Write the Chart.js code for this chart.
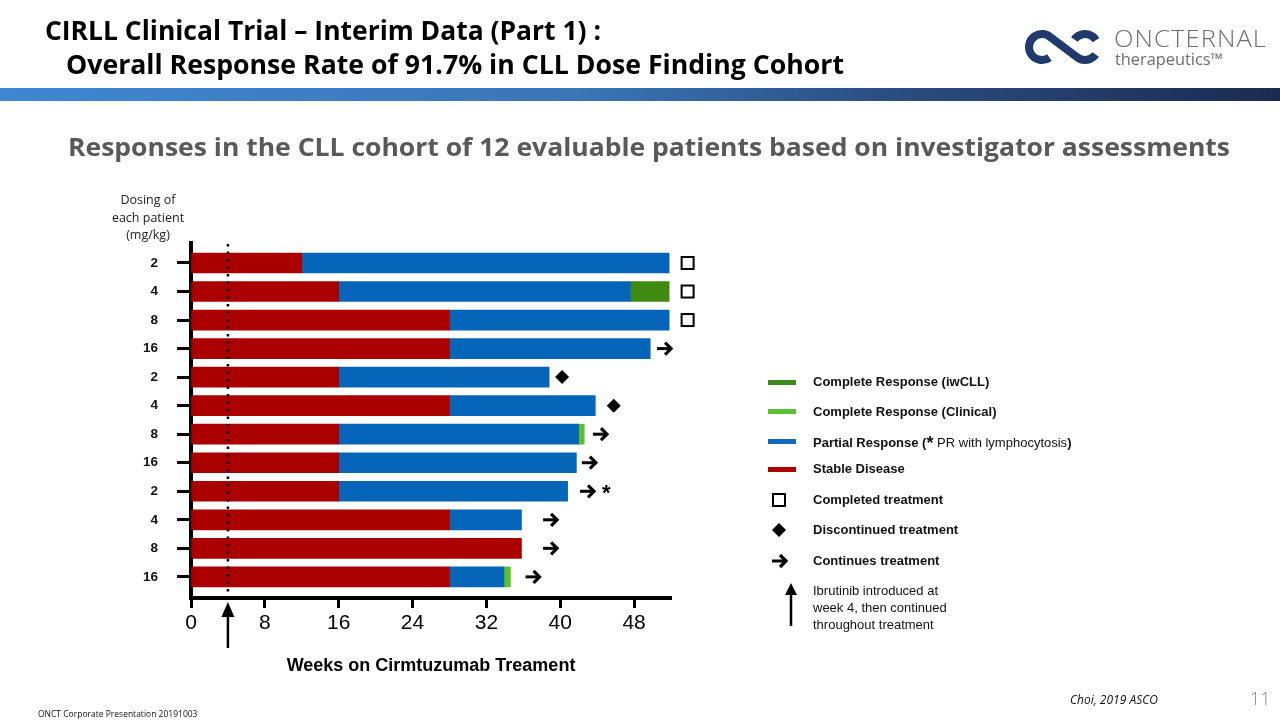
<!DOCTYPE html>
<html>
<head>
<meta charset="utf-8">
<script src="https://cdn.jsdelivr.net/npm/chart.js@4.4.0/dist/chart.umd.min.js"></script>
<style>
  html, body { margin:0; padding:0; background:#fff; }
  body { width:1280px; height:720px; position:relative; overflow:hidden; font-family:"Liberation Sans", Arial, sans-serif; }
  .abs { position:absolute; white-space:nowrap; }
  .fit { display:inline-block; transform-origin:left top; }
  #t1, #t2 { font-family:"Open Sans", sans-serif; font-weight:700; font-size:26px; line-height:30px; color:#000; }
  #sub { font-family:"Open Sans", sans-serif; font-weight:700; font-size:25px; line-height:30px; color:#595959; }
  #band { position:absolute; left:0; top:88px; width:1280px; height:13px; background:linear-gradient(to right, #3f87d2 0%, #3a76b8 45%, #2b4d80 70%, #1c2a4f 100%); }
  #chartWrap { position:absolute; left:0; top:0; width:1280px; height:720px; }
  .lg { position:absolute; font-size:13px; font-weight:700; color:#111; line-height:16px; }
  .sw { position:absolute; left:768px; width:28px; height:5px; }
  #dosing { position:absolute; left:98px; top:191px; width:100px; text-align:center; font-family:"Open Sans", sans-serif; font-size:12.5px; line-height:17.5px; color:#222; }
  #logoText1 { font-family:"Open Sans", sans-serif; font-weight:300; font-size:23px; color:#6b6d70; letter-spacing:1px; }
  #logoText2 { font-family:"Open Sans", sans-serif; font-weight:400; font-size:16px; color:#6b6d70; }
</style>
</head>
<body>
<div id="chartWrap"><canvas id="c" width="1280" height="720"></canvas></div>

<div class="abs" style="left:45px; top:15px;"><span id="t1" class="fit">CIRLL Clinical Trial – Interim Data (Part 1) :</span></div>
<div class="abs" style="left:66px; top:49px;"><span id="t2" class="fit">Overall Response Rate of 91.7% in CLL Dose Finding Cohort</span></div>
<div id="band"></div>

<canvas id="logo" width="90" height="50" style="position:absolute; left:1020px; top:22px;"></canvas>
<div class="abs" style="left:1114px; top:22px;"><span id="logoText1" class="fit">ONCTERNAL</span></div>
<div class="abs" style="left:1115px; top:48px;"><span id="logoText2" class="fit">therapeutics™</span></div>

<div class="abs" style="left:68px; top:131px;"><span id="sub" class="fit">Responses in the CLL cohort of 12 evaluable patients based on investigator assessments</span></div>

<div id="dosing">Dosing of<br>each patient<br>(mg/kg)</div>

<!-- Legend -->
<div class="sw" style="top:380px; background:#3d8a1c;"></div>
<div class="lg" style="left:813px; top:374px;">Complete Response (iwCLL)</div>
<div class="sw" style="top:409px; background:#5cc132;"></div>
<div class="lg" style="left:813px; top:404px;">Complete Response (Clinical)</div>
<div class="sw" style="top:439px; background:#1168bf;"></div>
<div class="lg" style="left:813px; top:433px;">Partial Response (<span style="font-size:18px; position:relative; top:2px;">*</span> <span style="font-weight:400;">PR with lymphocytosis</span>)</div>
<div class="sw" style="top:467px; background:#b00000;"></div>
<div class="lg" style="left:813px; top:461px;">Stable Disease</div>

<svg class="abs" style="left:770px; top:491px;" width="18" height="18"><rect x="3" y="3" width="12" height="12" fill="#fff" stroke="#000" stroke-width="2"/></svg>
<div class="lg" style="left:813px; top:492px;">Completed treatment</div>
<svg class="abs" style="left:770px; top:521px;" width="18" height="18"><polygon points="9,2 16,9 9,16 2,9" fill="#000"/></svg>
<div class="lg" style="left:813px; top:522px;">Discontinued treatment</div>
<svg class="abs" style="left:770px; top:552px;" width="20" height="18"><line x1="2" y1="9" x2="15" y2="9" stroke="#000" stroke-width="3"/><polyline points="10,3 16,9 10,15" fill="none" stroke="#000" stroke-width="3.2"/></svg>
<div class="lg" style="left:813px; top:553px;">Continues treatment</div>
<svg class="abs" style="left:782px; top:582px;" width="18" height="46"><line x1="9" y1="10" x2="9" y2="44" stroke="#000" stroke-width="2.5"/><polygon points="3,13 9,1 15,13" fill="#000"/></svg>
<div class="lg" style="left:813px; top:582px; font-weight:400; line-height:17px;">Ibrutinib introduced at<br>week 4, then continued<br>throughout treatment</div>

<!-- Footer -->
<div class="abs" style="left:38px; top:708px; font-family:'Open Sans',sans-serif; font-size:8.5px; color:#111;">ONCT Corporate Presentation 20191003</div>
<div class="abs" style="left:1070px; top:691px; font-family:'Open Sans',sans-serif; font-style:italic; font-size:12px; color:#111;">Choi, 2019 ASCO</div>
<div class="abs" style="left:1250px; top:686px; font-family:'Open Sans',sans-serif; font-weight:300; font-size:18px; color:#8a8a8a;">11</div>

<script>
// ---------------- DATA ----------------
const doses = ['2','4','8','16','2','4','8','16','2','4','8','16'];
// segment lengths in weeks, stacked left to right
const stableDisease    = [12, 16, 28, 28, 16, 28, 16, 16, 16, 28, 35.8, 28];
const partialResponse  = [39.8, 31.6, 23.8, 21.75, 22.8, 15.8, 26.0, 25.75, 24.8, 7.8, null, 5.9];
const completeIwcll    = [null, 4.2, null, null, null, null, null, null, null, null, null, null];
const completeClinical = [null, null, null, null, null, null, 0.6, null, null, null, null, 0.7];
// end-of-row status markers and their position on the weeks axis
const endStatus  = ['completed','completed','completed','continues','discontinued','discontinued','continues','continues','continues','continues','continues','continues'];
const markerWeek = [53.8, 53.8, 53.8, 51.25, 40.2, 45.8, 44.3, 43.1, 42.9, 38.9, 38.9, 37.0];
const lymphocytosisRow = 8;
const lymphocytosisWeek = 45.0;
const ibrutinibWeek = 4;
const weekTicks = [0, 8, 16, 24, 32, 40, 48];
const weekMax = 52;

// ---------------- Fit text widths ----------------
function fitW(id, w) {
  const el = document.getElementById(id);
  el.style.transform = 'none';
  const r = el.getBoundingClientRect().width;
  el.style.transform = 'scaleX(' + (w / r) + ')';
}
function fitAll() {
  fitW('t1', 556);
  fitW('t2', 778);
  fitW('sub', 1162);
  fitW('logoText1', 153);
  fitW('logoText2', 108);
}
fitAll();
if (document.fonts && document.fonts.ready) document.fonts.ready.then(fitAll);

// ---------------- Logo ----------------
(function(){
  const c = document.getElementById('logo').getContext('2d');
  c.strokeStyle = '#1f3a6b'; c.lineWidth = 8; c.lineCap = 'butt';
  const L = {x:22, y:25}, R = {x:65, y:25}, r = 13;
  const d = Math.PI/180;
  c.beginPath();
  c.arc(L.x, L.y, r, 55*d, 315*d, false);
  c.lineTo(R.x + r*Math.cos(135*d), R.y + r*Math.sin(135*d));
  c.arc(R.x, R.y, r, 135*d, 35*d, true);
  c.stroke();
  c.beginPath();
  c.arc(R.x, R.y, r, 215*d, 328*d, false);
  c.stroke();
})();

// ---------------- Chart ----------------
const markerPlugin = {
  id: 'markers',
  afterDatasetsDraw(chart) {
    const ctx = chart.ctx, xs = chart.scales.x, ys = chart.scales.y, ca = chart.chartArea;
    ctx.save();
    // dotted line at ibrutinib week
    const xi = xs.getPixelForValue(ibrutinibWeek);
    ctx.strokeStyle = '#000'; ctx.lineWidth = 2.5; ctx.setLineDash([2.5, 5]);
    ctx.beginPath(); ctx.moveTo(xi, ca.top + 1); ctx.lineTo(xi, ca.bottom - 2); ctx.stroke();
    ctx.setLineDash([]);
    // up arrow under the axis
    ctx.lineWidth = 2.5;
    ctx.beginPath(); ctx.moveTo(xi, ca.bottom + 50); ctx.lineTo(xi, ca.bottom + 16); ctx.stroke();
    ctx.fillStyle = '#000';
    ctx.beginPath(); ctx.moveTo(xi, ca.bottom + 4); ctx.lineTo(xi - 6.5, ca.bottom + 19); ctx.lineTo(xi + 6.5, ca.bottom + 19); ctx.closePath(); ctx.fill();
    // end markers
    endStatus.forEach((s, i) => {
      const x = xs.getPixelForValue(markerWeek[i]);
      const y = ys.getPixelForValue(i);
      ctx.strokeStyle = '#000'; ctx.fillStyle = '#000';
      if (s === 'completed') {
        ctx.lineWidth = 2; ctx.fillStyle = '#fff';
        ctx.fillRect(x - 6, y - 6, 12, 12); ctx.strokeRect(x - 6, y - 6, 12, 12);
      } else if (s === 'discontinued') {
        ctx.beginPath(); ctx.moveTo(x, y - 7); ctx.lineTo(x + 7, y); ctx.lineTo(x, y + 7); ctx.lineTo(x - 7, y); ctx.closePath(); ctx.fill();
      } else {
        ctx.lineWidth = 3; ctx.lineJoin = 'miter';
        ctx.beginPath(); ctx.moveTo(x - 7, y); ctx.lineTo(x + 5, y); ctx.stroke();
        ctx.lineWidth = 3.2;
        ctx.beginPath(); ctx.moveTo(x + 1, y - 6); ctx.lineTo(x + 7, y); ctx.lineTo(x + 1, y + 6); ctx.stroke();
      }
    });
    // asterisk
    const ax = xs.getPixelForValue(lymphocytosisWeek), ay = ys.getPixelForValue(lymphocytosisRow);
    ctx.font = 'bold 22px "Liberation Sans", Arial, sans-serif';
    ctx.textAlign = 'center'; ctx.textBaseline = 'middle'; ctx.fillStyle = '#000';
    ctx.fillText('*', ax, ay + 3);
    ctx.restore();
  }
};

const rows = doses.map((_, i) => i);
const mk = (label, arr, color) => ({
  label, backgroundColor: color, borderWidth: 0, barThickness: 20,
  data: arr.map((v, i) => ({ x: v, y: i }))
});

new Chart(document.getElementById('c'), {
  type: 'bar',
  data: {
    datasets: [
      mk('Stable Disease', stableDisease, '#aa0000'),
      mk('Partial Response', partialResponse, '#0565b9'),
      mk('Complete Response (iwCLL)', completeIwcll, '#3f8a10'),
      mk('Complete Response (Clinical)', completeClinical, '#58c12c')
    ]
  },
  options: {
    indexAxis: 'y',
    responsive: false,
    animation: false,
    layout: { padding: { left: 100, right: 609, top: 243, bottom: 32 } },
    plugins: { legend: { display: false }, tooltip: { enabled: false } },
    scales: {
      x: {
        type: 'linear', stacked: true, min: 0, max: weekMax, offset: false,
        afterBuildTicks: s => { s.ticks = weekTicks.map(v => ({ value: v })); },
        afterFit: s => { s.height = 90; },
        border: { display: true, width: 4, color: '#000' },
        grid: { display: true, offset: false, drawOnChartArea: false, drawTicks: true, tickLength: 10, tickWidth: 3, tickColor: '#000' },
        ticks: { color: '#000', padding: 3, font: { size: 21, family: '"Liberation Sans", Arial, sans-serif' }, maxRotation: 0 },
        title: { display: true, text: 'Weeks on Cirmtuzumab Treament', color: '#000',
                 font: { size: 18, weight: 'bold', family: '"Liberation Sans", Arial, sans-serif' }, padding: { top: 0, bottom: 11 } }
      },
      y: {
        type: 'linear', stacked: true, reverse: true, min: -0.7, max: 11.74, offset: false,
        afterBuildTicks: s => { s.ticks = rows.map(v => ({ value: v })); },
        afterFit: s => { s.width = 91; },
        border: { display: true, width: 4, color: '#000' },
        grid: { display: true, offset: false, drawOnChartArea: false, drawTicks: true, tickLength: 14, tickWidth: 3, tickColor: '#000' },
        ticks: { color: '#111', padding: 19, autoSkip: false,
                 font: { size: 13.5, weight: 'bold', family: '"Liberation Sans", Arial, sans-serif' },
                 callback: v => doses[v] }
      }
    }
  },
  plugins: [markerPlugin]
});
</script>
</body>
</html>
